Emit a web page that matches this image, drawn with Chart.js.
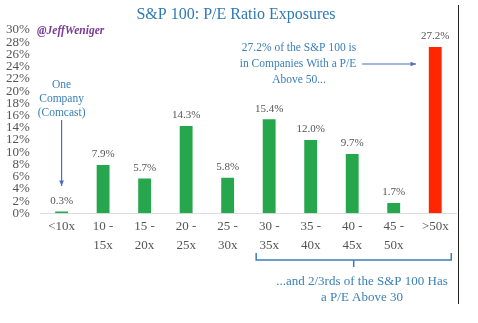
<!DOCTYPE html>
<html>
<head>
<meta charset="utf-8">
<script src="https://cdn.jsdelivr.net/npm/chart.js@4"></script>
<style>
  html, body { margin: 0; padding: 0; background: #fff; }
  #wrap { width: 478px; height: 323px; position: relative; }
</style>
</head>
<body>
<div id="wrap"><canvas id="peChart"></canvas></div>
<script>
// P/E buckets and share of the S&P 100 in each
const buckets = [['<10x'], ['10 -', '15x'], ['15 -', '20x'], ['20 -', '25x'], ['25 -', '30x'],
                 ['30 -', '35x'], ['35 -', '40x'], ['40 -', '45x'], ['45 -', '50x'], ['>50x']];
const exposure = [0.3, 7.9, 5.7, 14.3, 5.8, 15.4, 12.0, 9.7, 1.7, 27.2];
const barColors = ['#27a74d', '#27a74d', '#27a74d', '#27a74d', '#27a74d',
                   '#27a74d', '#27a74d', '#27a74d', '#27a74d', '#ff2600'];

const serif = "'Liberation Serif', 'DejaVu Serif', serif";
const blue = '#3a7fb8';

function arrow(ctx, x1, y1, x2, y2) {
    const a = Math.atan2(y2 - y1, x2 - x1);
    ctx.beginPath();
    ctx.moveTo(x1, y1);
    ctx.lineTo(x2, y2);
    ctx.stroke();
    ctx.beginPath();
    ctx.moveTo(x2, y2);
    ctx.lineTo(x2 - 6 * Math.cos(a - 0.4), y2 - 6 * Math.sin(a - 0.4));
    ctx.lineTo(x2 - 6 * Math.cos(a + 0.4), y2 - 6 * Math.sin(a + 0.4));
    ctx.closePath();
    ctx.fill();
}

const notes = {
    id: 'notes',
    afterDatasetsDraw(chart) {
        const ctx = chart.ctx;
        const x = chart.scales.x, y = chart.scales.y;
        ctx.save();

        // value labels
        ctx.fillStyle = '#555';
        ctx.font = '11px ' + serif;
        ctx.textAlign = 'center';
        ctx.textBaseline = 'bottom';
        exposure.forEach((v, i) => {
            ctx.fillText(v.toFixed(1) + '%', x.getPixelForValue(i), y.getPixelForValue(v) - 5);
        });

        // title + handle
        ctx.fillStyle = '#2f79b5';
        ctx.font = '16px ' + serif;
        ctx.textBaseline = 'middle';
        ctx.fillText('S&P 100: P/E Ratio Exposures', 236, 15);
        ctx.fillStyle = '#7b3a96';
        ctx.font = 'italic bold 11.5px ' + serif;
        ctx.textAlign = 'left';
        ctx.fillText('@JeffWeniger', 37, 31);

        // comcast note
        ctx.fillStyle = blue;
        ctx.strokeStyle = '#4a6fc0';
        ctx.lineWidth = 1.2;
        ctx.font = '11.5px ' + serif;
        ctx.textAlign = 'center';
        const cx = x.getPixelForValue(0);
        ctx.fillText('One', cx, 85);
        ctx.fillText('Company', cx, 99);
        ctx.fillText('(Comcast)', cx, 113);
        ctx.fillStyle = '#4a6fc0';
        arrow(ctx, cx, 120, cx, 186);

        // >50x note
        ctx.fillStyle = blue;
        ctx.fillText('27.2% of the S&P 100 is', 299, 48);
        ctx.fillText('in Companies With a P/E', 298, 64);
        ctx.fillText('Above 50...', 299, 80);
        ctx.fillStyle = '#4a6fc0';
        arrow(ctx, 362, 64, 416, 64);

        // bracket over 30x+
        const bx1 = x.getPixelForValue(5) - 13, bx2 = x.getPixelForValue(9) + 16;
        const mid = (bx1 + bx2) / 2;
        ctx.strokeStyle = blue;
        ctx.lineWidth = 1.5;
        ctx.beginPath();
        ctx.moveTo(bx1, 253);
        ctx.lineTo(bx1, 260);
        ctx.lineTo(bx2, 260);
        ctx.lineTo(bx2, 253);
        ctx.moveTo(mid, 260);
        ctx.lineTo(mid, 267);
        ctx.stroke();
        ctx.fillStyle = blue;
        ctx.font = '13px ' + serif;
        ctx.fillText('...and 2/3rds of the S&P 100 Has', 362, 282);
        ctx.fillText('a P/E Above 30', 362, 298);

        // frame line on the right
        ctx.strokeStyle = '#222';
        ctx.lineWidth = 1;
        ctx.beginPath();
        ctx.moveTo(458.5, 5);
        ctx.lineTo(458.5, 304);
        ctx.stroke();
        ctx.restore();
    }
};

new Chart(document.getElementById('peChart'), {
    type: 'bar',
    data: {
        labels: buckets,
        datasets: [{
            data: exposure,
            backgroundColor: barColors,
            barPercentage: 0.31,
            categoryPercentage: 1
        }]
    },
    options: {
        responsive: true,
        maintainAspectRatio: false,
        animation: false,
        layout: { padding: { top: 30, right: 22, bottom: 64, left: -5 } },
        plugins: { legend: { display: false }, tooltip: { enabled: false } },
        scales: {
            x: {
                grid: { display: false, drawTicks: false },
                border: { color: '#ddd' },
                ticks: { color: '#555', font: { family: serif, size: 13, lineHeight: 1.45 }, padding: 4, maxRotation: 0 }
            },
            y: {
                min: 0,
                max: 30,
                grid: { display: false, drawTicks: false },
                border: { display: false },
                ticks: {
                    stepSize: 2,
                    autoSkip: false,
                    color: '#555',
                    padding: 11,
                    font: { family: serif, size: 13, lineHeight: 1 },
                    callback: v => v + '%'
                }
            }
        }
    },
    plugins: [notes]
});
</script>
</body>
</html>
